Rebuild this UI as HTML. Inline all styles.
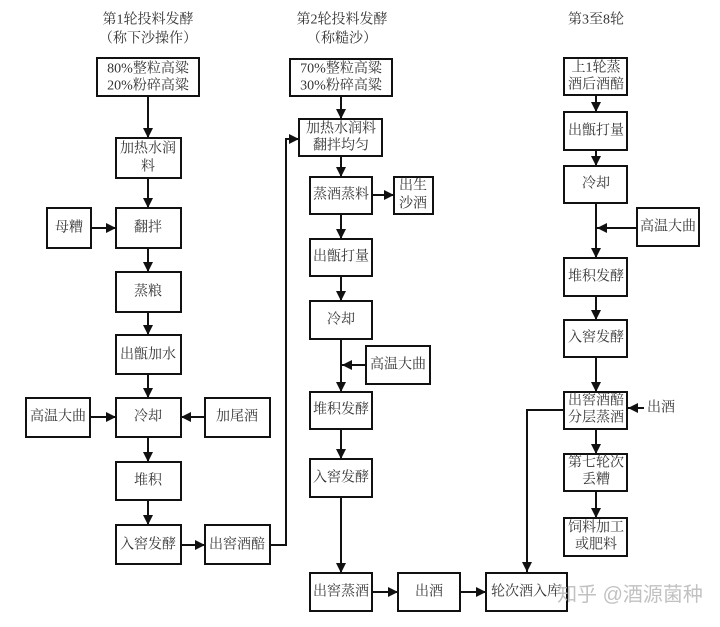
<!DOCTYPE html>
<html><head><meta charset="utf-8"><style>
html,body{margin:0;padding:0;background:#fff;}
svg{display:block;}
text{font-family:"Liberation Serif","Noto Serif CJK SC",serif;font-size:14px;fill:#333;text-anchor:middle;dominant-baseline:central;}
rect{fill:#fff;stroke:#111;stroke-width:2;}
line,polyline{stroke:#111;stroke-width:2;fill:none;}
</style></head><body>
<svg width="720" height="627" viewBox="0 0 720 627" xmlns="http://www.w3.org/2000/svg">
<defs><marker id="a" viewBox="0 0 10 10" refX="10" refY="5" markerWidth="5" markerHeight="5" orient="auto" markerUnits="strokeWidth"><path d="M0,0L10,5L0,10z" fill="#111"/></marker></defs>
<!-- titles -->
<text x="148" y="20">第1轮投料发酵</text><text x="148" y="39">（称下沙操作）</text>
<text x="342" y="20">第2轮投料发酵</text><text x="342" y="39">（称糙沙）</text>
<text x="596" y="20">第3至8轮</text>
<!-- col1 lines -->
<line x1="148" y1="96" x2="148" y2="138" marker-end="url(#a)"/>
<line x1="148" y1="178" x2="148" y2="208" marker-end="url(#a)"/>
<line x1="91" y1="228" x2="116" y2="228" marker-end="url(#a)"/>
<line x1="148" y1="248" x2="148" y2="272" marker-end="url(#a)"/>
<line x1="148" y1="312" x2="148" y2="335" marker-end="url(#a)"/>
<line x1="148" y1="374" x2="148" y2="398" marker-end="url(#a)"/>
<line x1="90" y1="417" x2="116" y2="417" marker-end="url(#a)"/>
<line x1="205" y1="417" x2="181" y2="417" marker-end="url(#a)"/>
<line x1="148" y1="437" x2="148" y2="462" marker-end="url(#a)"/>
<line x1="148" y1="500" x2="148" y2="525" marker-end="url(#a)"/>
<line x1="181" y1="545" x2="205" y2="545" marker-end="url(#a)"/>
<polyline points="270,545 286,545 286,139 299,139" marker-end="url(#a)"/>
<!-- col1 boxes -->
<rect x="97" y="58" width="102" height="38"/><text x="148" y="69">80%整粒高粱</text><text x="148" y="86">20%粉碎高粱</text>
<rect x="116" y="138" width="65" height="40"/><text x="148" y="149">加热水润</text><text x="148" y="167">料</text>
<rect x="47" y="208" width="44" height="40"/><text x="69" y="228">母糟</text>
<rect x="116" y="208" width="65" height="40"/><text x="148" y="228">翻拌</text>
<rect x="116" y="272" width="65" height="40"/><text x="148" y="292">蒸粮</text>
<rect x="116" y="335" width="65" height="39"/><text x="148" y="355">出甑加水</text>
<rect x="26" y="398" width="64" height="39"/><text x="58" y="417">高温大曲</text>
<rect x="116" y="398" width="65" height="39"/><text x="148" y="417">冷却</text>
<rect x="205" y="398" width="65" height="39"/><text x="237" y="417">加尾酒</text>
<rect x="116" y="462" width="65" height="38"/><text x="148" y="481">堆积</text>
<rect x="116" y="525" width="65" height="39"/><text x="148" y="545">入窖发酵</text>
<rect x="205" y="525" width="65" height="39"/><text x="237" y="545">出窖酒醅</text>
<!-- col2 lines -->
<line x1="341" y1="96" x2="341" y2="119" marker-end="url(#a)"/>
<line x1="341" y1="156" x2="341" y2="177" marker-end="url(#a)"/>
<line x1="372" y1="195" x2="394" y2="195" marker-end="url(#a)"/>
<line x1="341" y1="214" x2="341" y2="239" marker-end="url(#a)"/>
<line x1="341" y1="276" x2="341" y2="301" marker-end="url(#a)"/>
<line x1="341" y1="339" x2="341" y2="392" marker-end="url(#a)"/>
<line x1="366" y1="365" x2="342" y2="365" marker-end="url(#a)"/>
<line x1="341" y1="429" x2="341" y2="459" marker-end="url(#a)"/>
<line x1="341" y1="497" x2="341" y2="573" marker-end="url(#a)"/>
<line x1="372" y1="592" x2="398" y2="592" marker-end="url(#a)"/>
<line x1="460" y1="592" x2="486" y2="592" marker-end="url(#a)"/>
<!-- col2 boxes -->
<rect x="290" y="59" width="102" height="37"/><text x="341" y="69">70%整粒高粱</text><text x="341" y="86">30%粉碎高粱</text>
<rect x="299" y="119" width="83" height="37"/><text x="341" y="129">加热水润料</text><text x="341" y="146">翻拌均匀</text>
<rect x="310" y="177" width="62" height="37"/><text x="341" y="195">蒸酒蒸料</text>
<rect x="394" y="177" width="39" height="37"/><text x="413" y="186">出生</text><text x="413" y="204">沙酒</text>
<rect x="310" y="239" width="62" height="37"/><text x="341" y="257">出甑打量</text>
<rect x="310" y="301" width="62" height="38"/><text x="341" y="320">冷却</text>
<rect x="366" y="346" width="64" height="38"/><text x="398" y="365">高温大曲</text>
<rect x="310" y="392" width="62" height="37"/><text x="341" y="410">堆积发酵</text>
<rect x="310" y="459" width="62" height="38"/><text x="341" y="478">入窖发酵</text>
<rect x="310" y="573" width="62" height="38"/><text x="341" y="592">出窖蒸酒</text>
<rect x="398" y="573" width="62" height="38"/><text x="429" y="592">出酒</text>
<rect x="486" y="573" width="81" height="38"/><text x="526" y="592">轮次酒入库</text>
<!-- col3 lines -->
<line x1="596" y1="95" x2="596" y2="112" marker-end="url(#a)"/>
<line x1="596" y1="150" x2="596" y2="166" marker-end="url(#a)"/>
<line x1="596" y1="203" x2="596" y2="258" marker-end="url(#a)"/>
<line x1="637" y1="228" x2="597" y2="228" marker-end="url(#a)"/>
<line x1="596" y1="296" x2="596" y2="320" marker-end="url(#a)"/>
<line x1="596" y1="357" x2="596" y2="392" marker-end="url(#a)"/>
<line x1="644" y1="408" x2="628" y2="408" marker-end="url(#a)"/>
<polyline points="564,410 527,410 527,572" marker-end="url(#a)"/>
<line x1="596" y1="429" x2="596" y2="454" marker-end="url(#a)"/>
<line x1="596" y1="491" x2="596" y2="518" marker-end="url(#a)"/>
<!-- col3 boxes -->
<rect x="564" y="58" width="63" height="37"/><text x="596" y="68">上1轮蒸</text><text x="596" y="85">酒后酒醅</text>
<rect x="564" y="112" width="63" height="38"/><text x="596" y="131">出甑打量</text>
<rect x="564" y="166" width="63" height="37"/><text x="596" y="184">冷却</text>
<rect x="637" y="208" width="62" height="38"/><text x="668" y="227">高温大曲</text>
<rect x="564" y="258" width="63" height="38"/><text x="596" y="277">堆积发酵</text>
<rect x="564" y="320" width="63" height="37"/><text x="596" y="338">入窖发酵</text>
<rect x="564" y="392" width="63" height="37"/><text x="596" y="401">出窖酒醅</text><text x="596" y="418">分层蒸酒</text>
<text x="661" y="408">出酒</text>
<rect x="564" y="454" width="63" height="37"/><text x="596" y="463">第七轮次</text><text x="596" y="480">丢糟</text>
<rect x="564" y="518" width="63" height="38"/><text x="596" y="528">饲料加工</text><text x="596" y="545">或肥料</text>
<!-- watermark -->
<text x="630" y="595" style="font-family:'Liberation Sans','Noto Sans CJK SC',sans-serif;font-size:20px;fill:#bbb;opacity:0.9">知乎 @酒源菌种</text>
</svg>
</body></html>
